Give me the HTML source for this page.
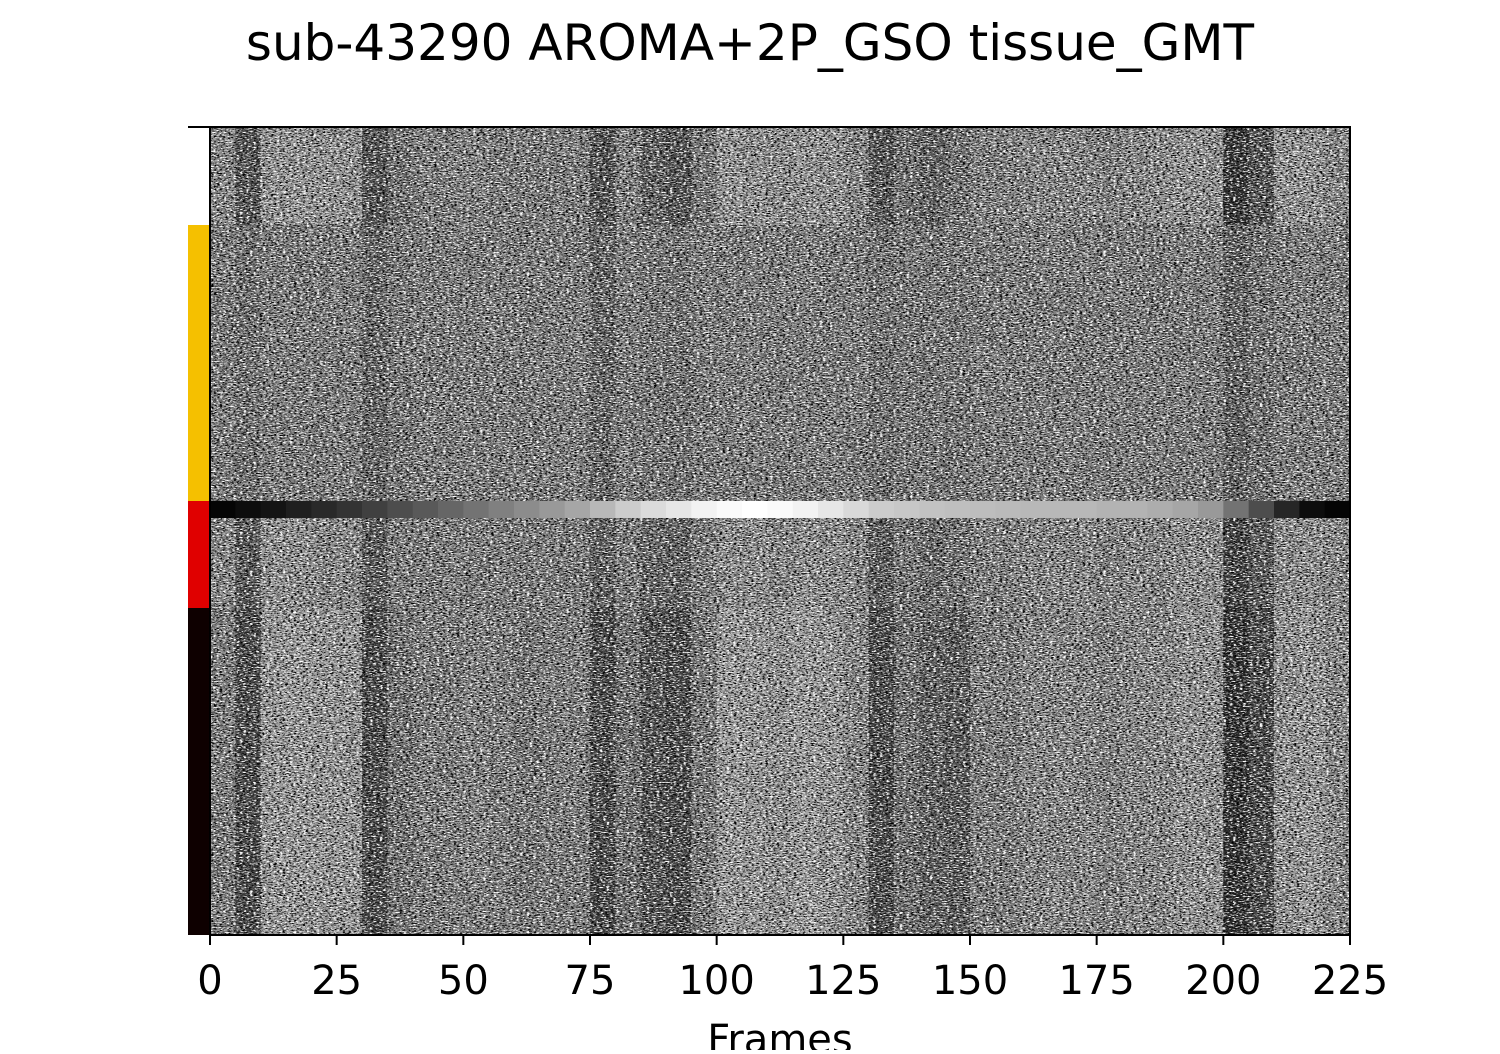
<!DOCTYPE html>
<html><head><meta charset="utf-8">
<style>
html,body{margin:0;padding:0;background:#fff;}
body{width:1500px;height:1050px;overflow:hidden;font-family:"DejaVu Sans","Liberation Sans",sans-serif;}
</style></head>
<body>
<svg id="chart" width="1500" height="1050" xmlns="http://www.w3.org/2000/svg" font-family="DejaVu Sans, Liberation Sans, sans-serif">
<defs>
<filter id="noise" x="0" y="0" width="100%" height="100%">
<feTurbulence type="fractalNoise" baseFrequency="0.35 0.9" numOctaves="2" seed="3"/>
<feColorMatrix type="matrix" values="0 0 0 0 0  0 0 0 0 0  0 0 0 0 0  -5 0 0 0 2.6"/>
</filter>
<filter id="noise2" x="0" y="0" width="100%" height="100%">
<feTurbulence type="fractalNoise" baseFrequency="0.3 0.8" numOctaves="2" seed="11"/>
<feColorMatrix type="matrix" values="0 0 0 0 1  0 0 0 0 1  0 0 0 0 1  5 0 0 0 -2.6"/>
</filter>
<clipPath id="noclip"><rect x="210" y="127" width="1140" height="374"/><rect x="210" y="518" width="1140" height="417"/></clipPath>
</defs>
<text x="750" y="60" font-size="50" text-anchor="middle" fill="#000">sub-43290 AROMA+2P_GSO tissue_GMT</text>
<g id="bands"></g>
<g clip-path="url(#noclip)">
<rect x="210" y="127" width="1140" height="808" filter="url(#noise)"/>
<rect x="210" y="127" width="1140" height="808" filter="url(#noise2)"/>
</g>
<rect x="188" y="127" width="22" height="98" fill="#fff"/>
<rect x="188" y="225" width="22" height="276" fill="#f5c000"/>
<rect x="188" y="501" width="22" height="107" fill="#e00000"/>
<rect x="188" y="608" width="22" height="327" fill="#0e0000"/>
<line x1="188" y1="127" x2="210" y2="127" stroke="#000" stroke-width="2"/>
<rect x="210" y="127" width="1140" height="808" fill="none" stroke="#000" stroke-width="2"/>
<g id="xaxis"></g>
<text x="780" y="1053" font-size="40" text-anchor="middle">Frames</text>
</svg>
<script>
const ticks=[0,25,50,75,100,125,150,175,200,225];
const topBand=[0.55,0.32,0.6,0.62,0.6,0.6,0.32,0.45,0.5,0.5,0.52,0.5,0.5,0.5,0.5,0.32,0.5,0.38,0.32,0.48,0.62,0.6,0.58,0.6,0.6,0.55,0.33,0.45,0.38,0.45,0.52,0.52,0.55,0.55,0.55,0.52,0.55,0.58,0.6,0.6,0.2,0.32,0.6,0.6,0.55];
const yellowBand=[0.5,0.45,0.5,0.5,0.5,0.5,0.4,0.48,0.5,0.5,0.5,0.5,0.5,0.5,0.5,0.4,0.5,0.47,0.45,0.5,0.5,0.5,0.5,0.5,0.5,0.5,0.45,0.48,0.48,0.48,0.5,0.5,0.5,0.5,0.5,0.5,0.5,0.5,0.5,0.5,0.38,0.45,0.5,0.5,0.5];
const meanLine=[0.02,0.05,0.08,0.12,0.16,0.2,0.25,0.3,0.35,0.4,0.45,0.5,0.55,0.6,0.65,0.72,0.8,0.86,0.9,0.95,0.98,1.0,0.98,0.95,0.9,0.85,0.8,0.78,0.76,0.75,0.74,0.73,0.72,0.72,0.72,0.7,0.7,0.68,0.65,0.6,0.45,0.3,0.15,0.05,0.02];
const redBand=[0.55,0.35,0.6,0.6,0.55,0.55,0.35,0.5,0.5,0.5,0.5,0.5,0.5,0.5,0.5,0.38,0.5,0.4,0.38,0.5,0.58,0.58,0.55,0.58,0.58,0.55,0.35,0.48,0.42,0.45,0.52,0.52,0.55,0.55,0.55,0.52,0.55,0.55,0.58,0.58,0.25,0.35,0.58,0.58,0.55];
const bottomBand=[0.5,0.28,0.62,0.64,0.62,0.62,0.28,0.45,0.5,0.5,0.52,0.5,0.48,0.5,0.5,0.28,0.45,0.32,0.28,0.48,0.64,0.62,0.6,0.64,0.62,0.55,0.28,0.45,0.38,0.35,0.5,0.5,0.55,0.55,0.55,0.52,0.55,0.56,0.6,0.6,0.18,0.28,0.6,0.62,0.55];
const X0=210,X1=1350,F0=0,F1=225;
const xs=f=>X0+(f-F0)/(F1-F0)*(X1-X0);
const g=document.getElementById('bands');
const NS='http://www.w3.org/2000/svg';
const bands=[[topBand,127,225,'band-top'],[yellowBand,225,501,'band-yellow'],[meanLine,501,518,'band-mean'],[redBand,518,608,'band-red'],[bottomBand,608,935,'band-bottom']];
bands.forEach(([vals,y0,y1,name])=>{
  vals.forEach((v,i)=>{
    const r=document.createElementNS(NS,'rect');
    const a=xs(i*5),b=xs(i*5+5);
    r.setAttribute('x',a);r.setAttribute('width',b-a+0.5);
    r.setAttribute('y',y0);r.setAttribute('height',y1-y0);
    const c=Math.round(v*255);
    r.setAttribute('fill',`rgb(${c},${c},${c})`);
    
    
    g.appendChild(r);
  });
});
const ax=document.getElementById('xaxis');
ticks.forEach(t=>{
  const l=document.createElementNS(NS,'line');
  l.setAttribute('x1',xs(t));l.setAttribute('x2',xs(t));l.setAttribute('y1',935);l.setAttribute('y2',945);
  l.setAttribute('stroke','#000');l.setAttribute('stroke-width','2');
  
  
  ax.appendChild(l);
  const tx=document.createElementNS(NS,'text');
  tx.setAttribute('x',xs(t));tx.setAttribute('y',994);tx.setAttribute('font-size','40');tx.setAttribute('text-anchor','middle');
  tx.textContent=t;
  
  
  ax.appendChild(tx);
});
</script>
</body></html>
